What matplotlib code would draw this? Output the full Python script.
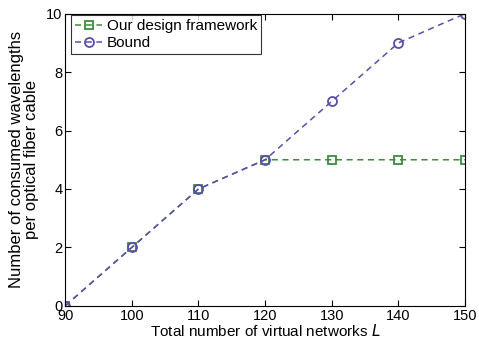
import matplotlib
matplotlib.use("Agg")
import matplotlib.pyplot as plt

plt.rcParams['font.family'] = ['Liberation Sans', 'DejaVu Sans']

x_vals = [90, 100, 110, 120, 130, 140, 150]
ours = [0, 2, 4, 5, 5, 5, 5]
bound = [0, 2, 4, 5, 7, 9, 10]

fig, ax = plt.subplots(figsize=(4.79, 3.41), dpi=100)
fig.subplots_adjust(left=0.136, right=0.971, top=0.96, bottom=0.103)

ax.plot(x_vals, ours, linestyle=(0, (4, 3)), marker='s', color='#3d8b3d',
        markerfacecolor='none', markersize=6, linewidth=1.1, markeredgewidth=1.3,
        label='Our design framework')
ax.plot(x_vals, bound, linestyle=(0, (4, 3)), marker='o', color='#5b4ea8',
        markerfacecolor='none', markersize=6.5, linewidth=1.1, markeredgewidth=1.3,
        label='Bound')

ax.set_xlim(90, 150)
ax.set_ylim(0, 10)
ax.set_xticks([90, 100, 110, 120, 130, 140, 150])
ax.set_yticks([0, 2, 4, 6, 8, 10])
ax.tick_params(direction='in', top=True, right=True, labelsize=10.5, length=4, pad=2)

ax.set_xlabel('Total number of virtual networks $\\it{L}$', fontsize=11, labelpad=0)
ax.set_ylabel('Number of consumed wavelengths\nper optical fiber cable', fontsize=12,
              labelpad=5, linespacing=1.0)

leg = ax.legend(loc='upper left', bbox_to_anchor=(0.015, 0.995), fontsize=11,
                frameon=True, fancybox=False, edgecolor='black', borderaxespad=0,
                handlelength=1.8, borderpad=0.25, labelspacing=0.2, handletextpad=0.3)
leg.get_frame().set_linewidth(0.8)

plt.savefig('out.png', dpi=100)
